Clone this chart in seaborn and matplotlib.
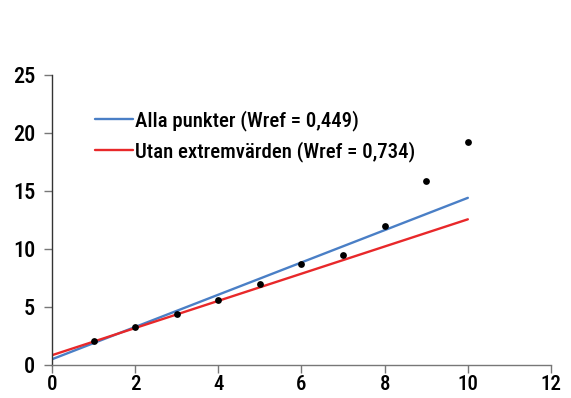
import matplotlib
matplotlib.use("Agg")
import matplotlib.pyplot as plt
import seaborn as sns
import pandas as pd
from matplotlib import font_manager

# Observations
x_values = [1, 2, 3, 4, 5, 6, 7, 8, 9, 10]
y_values = [2.05, 3.3, 4.35, 5.6, 7.0, 8.7, 9.5, 11.95, 15.85, 19.25]

# Fitted lines (evaluated at the ends of the range)
fit_x = [0, 10]
fit_all = [0.49, 14.4]
fit_trimmed = [0.84, 12.55]

label_all = "Alla punkter (Wref = 0,449)"
label_trimmed = "Utan extremvärden (Wref = 0,734)"

x_ticks = [0, 2, 4, 6, 8, 10, 12]
y_ticks = [0, 5, 10, 15, 20, 25]

sns.set_theme(style="ticks")
names = {f.name for f in font_manager.fontManager.ttflist}
preferred = ["Liberation Sans Narrow", "Roboto Condensed", "Roboto", "DejaVu Sans"]
family = next(n for n in preferred if n in names or n == "DejaVu Sans")
plt.rcParams["font.family"] = [family, "DejaVu Sans"]
plt.rcParams["font.weight"] = "medium"
plt.rcParams["text.color"] = "black"

fig = plt.figure(figsize=(5.71, 3.98), dpi=100)
ax = fig.add_axes([0.091, 0.083, 0.874, 0.729])

points = pd.DataFrame({"x": x_values, "y": y_values})
lines = pd.DataFrame({
    "x": fit_x + fit_x,
    "y": fit_all + fit_trimmed,
    "serie": [label_all] * 2 + [label_trimmed] * 2,
})

sns.lineplot(data=lines, x="x", y="y", hue="serie",
             palette={label_all: "#4a7fc6", label_trimmed: "#e8282a"},
             linewidth=1.7, ax=ax)
sns.scatterplot(data=points, x="x", y="y", color="black", s=24,
                edgecolor="black", linewidth=0, ax=ax, zorder=3)

ax.set_xlim(0, 12)
ax.set_ylim(0, 25)
ax.set_xticks(x_ticks)
ax.set_yticks(y_ticks)
ax.set_xlabel("")
ax.set_ylabel("")

for side in ("top", "right"):
    ax.spines[side].set_visible(False)
ax.spines["left"].set_color("#333333")
ax.spines["bottom"].set_color("#777777")
ax.spines["left"].set_linewidth(1.0)
ax.spines["bottom"].set_linewidth(1.0)
ax.tick_params(axis="both", length=6, width=1.0, color="#777777",
               labelsize=16, labelcolor="black")
ax.tick_params(axis="x", pad=1.5, labelsize=15)
ax.tick_params(axis="y", pad=6)
for lab in ax.get_xticklabels() + ax.get_yticklabels():
    lab.set_fontweight("medium")

leg = ax.legend(loc="upper left", bbox_to_anchor=(0.07, 0.908), frameon=False,
                fontsize=15, handlelength=1.8, handletextpad=0.12,
                labelspacing=0.5, borderaxespad=0)
for line in leg.get_lines():
    line.set_linewidth(1.7)
for t in leg.get_texts():
    t.set_color("black")

fig.savefig("out.png", dpi=100)
